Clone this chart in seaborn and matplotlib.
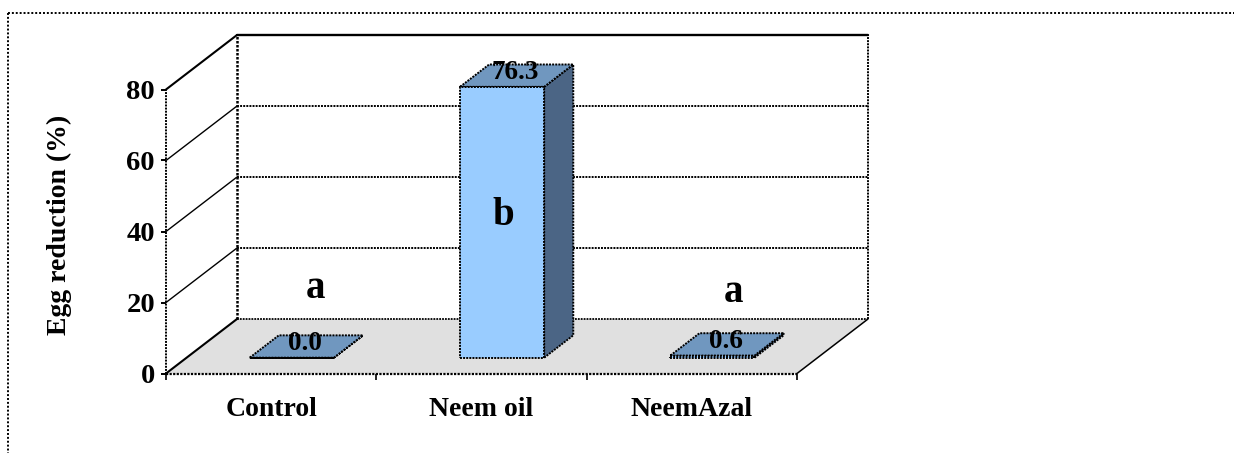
import numpy as np
import pandas as pd
import matplotlib
matplotlib.use("Agg")
import matplotlib.pyplot as plt
from matplotlib.lines import Line2D
from matplotlib.patches import Polygon
from matplotlib.transforms import Affine2D, IdentityTransform
import seaborn as sns

categories = ["Control", "Neem oil", "NeemAzal"]
values = [0.0, 76.3, 0.6]
value_labels = ["0.0", "76.3", "0.6"]
letters = ["a", "b", "a"]
letter_x = [0.213, 1.102, 2.2]
letter_y = [24.0, 44.4, 22.9]
y_ticks = [0, 20, 40, 60, 80]

W, H = 1234, 453
FRONT = "#99ccff"
TOP = "#7097bf"
SIDE = "#4b6585"
FLOOR = "#e0e0e0"
DOT = (0, (1, 0.6))
SERIF = "Liberation Serif"

sns.set_theme(style="white")
plt.rcParams["font.family"] = SERIF
plt.rcParams["font.weight"] = "bold"

fig = plt.figure(figsize=(W / 100, H / 100), dpi=100, facecolor="white")
ax = fig.add_axes([166 / W, (H - 373.5) / H, 631 / W, 284 / H])
ax.patch.set_visible(False)

df = pd.DataFrame({"Treatment": categories, "Reduction": values})
sns.barplot(data=df, x="Treatment", y="Reduction", order=categories, color=FRONT,
            saturation=1, width=0.4, edgecolor="black", linewidth=1.4, linestyle=DOT,
            zorder=6, clip_on=False, ax=ax)
bars = list(ax.patches)
ax.set_xlim(-0.5, 2.5)
ax.set_ylim(0, 80)


def depth(d, extra_y=0):
    """Data transform shifted d of the way from the front plane to the back wall."""
    return ax.transData + Affine2D().translate(71 * d, 54.5 * d + extra_y)


def seg(xa, ya, da, xb, yb, db, **kw):
    pa = depth(da).transform((xa, ya))
    pb = depth(db).transform((xb, yb))
    kw.setdefault("color", "black")
    kw.setdefault("lw", 1.1)
    line = Line2D([pa[0], pb[0]], [pa[1], pb[1]], transform=IdentityTransform(),
                  clip_on=False, **kw)
    ax.add_artist(line)
    return line


def face(pts, **kw):
    xy = [depth(d).transform((x, y)) for x, y, d in pts]
    p = Polygon(xy, closed=True, transform=IdentityTransform(), clip_on=False, **kw)
    ax.add_artist(p)
    return p


x0, x1 = ax.get_xlim()
y0, y1 = ax.get_ylim()

# floor
face([(x0, y0, 0), (x1, y0, 0), (x1, y0, 1), (x0, y0, 1)], facecolor=FLOOR, edgecolor="none", zorder=1)
# wall gridlines and frame
for t in y_ticks[1:]:
    seg(x0, t, 0, x0, t, 1, zorder=2, lw=1.0 if t < y1 else 1.5)
    if t < y1:
        seg(x0, t, 1, x1, t, 1, ls=DOT, zorder=2, lw=1.4)
seg(x0, y1, 1, x1, y1, 1, lw=1.7, zorder=3)
seg(x0, y0, 0, x0, y1, 0, ls=DOT, lw=1.4, zorder=3)
seg(x0, y0, 1, x0, y1, 1, ls=DOT, lw=1.8, zorder=3)
seg(x1, y0, 1, x1, y1, 1, ls=DOT, lw=1.4, zorder=3)
seg(x0, y0, 1, x1, y0, 1, ls=DOT, lw=1.3, zorder=3)
seg(x0, y0, 0, x1, y0, 0, ls=DOT, lw=1.6, zorder=3)
seg(x0, y0, 0, x0, y0, 1, lw=1.5, zorder=3)
seg(x1, y0, 0, x1, y0, 1, lw=1.1, zorder=3)

# bars: seaborn front faces, moved onto the floor, with top and side faces from their geometry
d_front, d_back = 0.29, 0.70
for bar in bars:
    bar.set_transform(depth(d_front))
    l, r = bar.get_x(), bar.get_x() + bar.get_width()
    b, t = bar.get_y(), bar.get_y() + bar.get_height()
    edge = dict(edgecolor="black", linewidth=1.4, linestyle=DOT)
    face([(r, b, d_front), (r, b, d_back), (r, t, d_back), (r, t, d_front)],
         facecolor=SIDE, zorder=5, **edge)
    face([(l, t, d_front), (r, t, d_front), (r, t, d_back), (l, t, d_back)],
         facecolor=TOP, zorder=5, **edge)

# value labels on the bar tops
for i, (v, s) in enumerate(zip(values, value_labels)):
    ax.text(i, v, s, transform=depth(0.48, extra_y=3.5), ha="center", va="center",
            fontsize=19.5, fontweight="bold", color="black", zorder=8, clip_on=False)

# significance letters
for lx, ly, s in zip(letter_x, letter_y, letters):
    ax.text(lx, ly, s, ha="center", va="center", fontsize=28, fontweight="bold",
            color="black", zorder=8, clip_on=False)

# axes
sns.despine(ax=ax, left=True, bottom=True, top=True, right=True)
ax.set_yticks(y_ticks)
ax.set_xticks(range(len(categories)))
ax.set_xticklabels(categories)
ax.set_xticks(np.arange(x0, x1 + 0.5), minor=True)
ax.tick_params(axis="x", which="major", length=0, pad=17, labelsize=20, colors="black")
ax.tick_params(axis="x", which="minor", length=4, width=1.2, color="black", bottom=True)
ax.tick_params(axis="y", which="major", length=3.5, width=1.4, pad=4.5, labelsize=20.5,
               color="black", left=True, labelcolor="black")
for lab in ax.get_xticklabels() + ax.get_yticklabels():
    lab.set_fontweight("bold")
ax.set_xlabel("")
ax.set_ylabel("Egg reduction (%)", fontsize=20, fontweight="bold", color="black")
ax.yaxis.set_label_coords((59 - 166) / 631, (373.5 - 225) / 284)
ax.yaxis.label.set_va("center")

# dotted outer frame
frame = dict(color="black", lw=1.4, ls=(0, (1, 1)), transform=fig.transFigure)
fig.add_artist(Line2D([8 / W, 1], [1 - 13 / H, 1 - 13 / H], **frame))
fig.add_artist(Line2D([8 / W, 8 / W], [1 - 13 / H, 0], **frame))

fig.savefig("out.png", dpi=100)
